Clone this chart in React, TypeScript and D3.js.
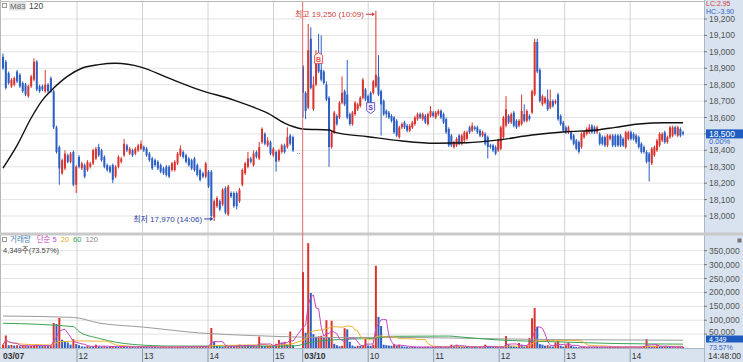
import * as d3 from "d3";

// 03/07 bars
const d1Open = [18970,18940,18870,18790,18800,18880,18860,18810,18800,18730,18790,18830,18940,18790,18790,18760,18800,18840,18760,18540,18420,18260,18290,18370,18330,18390,18190,18360,18290,18310,18280,18300,18320,18350,18420,18400,18360,18310,18300,18310,18240,18300,18330,18370,18430,18380,18400,18380,18400,18410,18420,18410,18380,18350,18340,18330,18310,18290,18300,18300,18280,18280,18320,18370,18390,18370,18350,18340,18350,18310,18280,18260,18240,18270,18270,17990,18060,18090,18070,18170,18010,18140,18140,18140,18090,18190,18260,18300,18350,18310,18390,18350,18450,18500,18430,18450,18370,18390,18340,18390,18430,18420,18490,18480];
const d1Close = [18900,18780,18810,18830,18840,18820,18790,18760,18740,18790,18850,18940,18770,18760,18770,18800,18760,18760,18540,18390,18290,18340,18380,18330,18380,18190,18300,18300,18320,18240,18330,18320,18400,18410,18370,18340,18300,18280,18270,18220,18300,18360,18350,18440,18400,18410,18370,18410,18430,18440,18400,18370,18340,18290,18310,18290,18270,18260,18250,18240,18320,18330,18380,18410,18360,18330,18310,18290,18280,18250,18220,18240,18320,18180,18000,18090,18110,18040,18160,18020,18180,18120,18060,18060,18160,18280,18320,18350,18330,18380,18360,18420,18530,18440,18460,18380,18410,18330,18400,18430,18390,18480,18440,18400];
const d1High = [18990,18950,18880,18840,18850,18890,18870,18820,18810,18800,18860,18960,18950,18800,18800,18890,18810,18850,18770,18550,18430,18350,18400,18380,18390,18400,18310,18370,18330,18320,18340,18330,18410,18420,18440,18410,18370,18320,18310,18320,18310,18370,18360,18470,18440,18420,18410,18420,18440,18460,18430,18420,18390,18360,18350,18340,18320,18300,18310,18310,18330,18340,18390,18430,18400,18380,18360,18350,18360,18320,18290,18270,18330,18280,18280,18100,18120,18100,18170,18180,18190,18150,18150,18150,18170,18290,18330,18390,18360,18400,18400,18450,18540,18510,18480,18460,18420,18400,18410,18440,18440,18540,18500,18490];
const d1Low = [18890,18770,18800,18780,18790,18810,18780,18750,18730,18720,18780,18820,18760,18750,18760,18750,18750,18750,18530,18380,18190,18250,18280,18320,18320,18180,18140,18290,18280,18230,18270,18290,18310,18340,18360,18330,18290,18270,18260,18200,18230,18290,18320,18360,18390,18370,18360,18370,18390,18400,18390,18360,18330,18280,18300,18280,18260,18250,18240,18230,18270,18270,18310,18360,18350,18320,18300,18280,18270,18240,18210,18230,18230,18170,17990,17970,18050,18030,18060,18010,18000,18110,18050,18040,18080,18180,18250,18290,18320,18300,18350,18340,18440,18430,18420,18370,18360,18270,18330,18380,18380,18410,18430,18390];

// 03/10 bars
const d2Open = [18910,18750,18660,19080,18650,18800,18990,18890,18880,18800,18720,18420,18510,18610,18600,18690,18760,18740,18620,18560,18620,18650,18670,18720,18770,18730,18750,18750,18790,18850,18760,18700,18640,18630,18610,18600,18580,18480,18540,18570,18550,18520,18540,18560,18590,18620,18590,18610,18560,18610,18630,18600,18620,18640,18620,18590,18530,18490,18420,18430,18490,18440,18460,18470,18540,18520,18540,18540,18520,18490,18500,18480,18430,18430,18420,18400,18410,18480,18550,18610,18570,18630,18580,18550,18560,18620,18580,18610,18630,18740,19060,18890,18680,18690,18710,18660,18700,18690,18740,18610,18570,18540,18510,18510,18490,18460,18450,18420,18480,18500,18510,18550,18540,18510,18500,18480,18480,18430,18470,18490,18490,18490,18490,18470,18420,18470,18510,18500,18490,18480,18440,18420,18390,18380,18320,18370,18400,18430,18460,18510,18450,18480,18490,18540,18490,18530,18510];
const d2Close = [18750,18640,19010,18780,18800,18980,18880,18830,18810,18710,18420,18510,18630,18560,18690,18750,18680,18600,18560,18630,18690,18680,18720,18830,18710,18690,18680,18820,18860,18740,18680,18620,18620,18600,18580,18510,18490,18540,18560,18540,18520,18550,18570,18600,18620,18600,18620,18570,18620,18640,18610,18630,18640,18600,18570,18510,18430,18430,18450,18470,18440,18490,18510,18510,18510,18550,18530,18510,18490,18510,18440,18420,18420,18400,18380,18460,18540,18600,18650,18570,18620,18550,18540,18580,18640,18580,18640,18590,18760,19060,18880,18700,18730,18720,18650,18700,18670,18700,18590,18560,18520,18510,18540,18470,18440,18410,18390,18500,18510,18530,18540,18510,18510,18540,18440,18440,18430,18490,18490,18430,18430,18430,18430,18430,18510,18510,18470,18470,18450,18420,18390,18390,18330,18330,18410,18420,18460,18500,18500,18450,18480,18540,18540,18500,18540,18490,18500];
const d2High = [18920,18760,19170,19150,18850,19010,19110,19100,18890,18820,18730,18520,18640,18620,18700,18850,18770,18950,18630,18640,18700,18690,18730,18840,18780,18740,18760,18830,19250,18980,18770,18710,18650,18640,18620,18610,18590,18550,18570,18580,18560,18560,18580,18610,18630,18630,18630,18620,18630,18670,18640,18640,18650,18650,18630,18600,18540,18500,18460,18480,18500,18500,18520,18520,18550,18570,18550,18550,18530,18520,18510,18490,18440,18440,18430,18470,18550,18610,18730,18620,18630,18640,18590,18590,18740,18680,18650,18620,18770,19080,19080,18900,18740,18730,18770,18770,18710,18710,18750,18620,18580,18550,18550,18520,18500,18470,18460,18510,18520,18540,18560,18560,18550,18550,18510,18490,18490,18500,18500,18500,18500,18500,18500,18480,18520,18520,18520,18510,18500,18490,18450,18430,18400,18390,18420,18430,18470,18510,18510,18520,18490,18550,18550,18550,18550,18540,18520];
const d2Low = [18600,18590,18650,18770,18640,18790,18870,18820,18800,18700,18300,18410,18500,18550,18590,18680,18670,18590,18550,18550,18610,18640,18660,18710,18700,18680,18670,18740,18780,18730,18490,18610,18600,18590,18570,18500,18480,18470,18530,18530,18510,18510,18530,18550,18580,18590,18580,18560,18550,18600,18600,18590,18610,18590,18560,18500,18420,18420,18410,18420,18430,18430,18450,18460,18500,18510,18520,18500,18480,18480,18430,18350,18410,18390,18370,18390,18400,18470,18540,18560,18560,18540,18530,18540,18550,18570,18570,18580,18620,18730,18870,18690,18670,18680,18640,18650,18660,18680,18580,18550,18510,18500,18500,18460,18430,18400,18380,18410,18470,18490,18500,18500,18500,18500,18430,18430,18420,18420,18460,18420,18420,18420,18420,18420,18410,18460,18460,18460,18440,18410,18380,18380,18320,18210,18310,18360,18390,18420,18450,18440,18440,18470,18480,18490,18480,18480,18490];

// volume, thousands of shares
const d1Vol = [12,45,10,11,9,10,6,8,9,7,8,9,12,8,7,8,7,9,90,86,108,30,25,20,12,32,14,10,6,5,7,5,4,12,6,5,6,4,5,7,5,4,6,5,4,5,4,3,5,4,6,4,3,5,4,3,4,5,3,4,4,3,5,6,4,3,5,4,6,4,5,7,5,6,72,23,8,6,5,7,5,9,6,8,12,6,10,8,7,9,6,41,8,7,9,10,8,15,29,20,22,12,59,10];
const d2Vol = [273,55,377,198,50,40,42,44,36,100,36,98,15,10,6,8,71,67,22,9,5,8,7,10,36,9,8,12,296,112,79,12,10,9,8,14,8,12,6,5,4,3,5,4,3,4,3,5,4,3,4,5,3,4,3,5,4,12,8,12,6,4,5,4,3,5,4,3,4,3,12,5,4,3,4,3,5,4,43,12,8,6,4,18,12,5,8,36,107,144,77,14,12,8,10,6,5,20,25,8,5,10,20,8,5,4,3,4,5,3,4,3,5,4,3,4,3,4,5,3,4,3,4,3,5,4,3,4,3,4,5,6,32,8,5,6,10,5,4,6,5,4,5,3,5,4,4.349];

// 120-bar price average, sampled along the line
const maIdx = [0,5,10,14,18,23,28,34,40,49,58,70,82,87,94,100,103,104,114,116,129,142,155,167,179,192,205,217,224,233,243,250];
const maVal = [18292,18430,18597,18706,18779,18852,18900,18922,18930,18907,18846,18767,18706,18675,18627,18566,18545,18530,18524,18511,18483,18457,18443,18446,18463,18493,18513,18524,18540,18560,18568,18568];

// 60 / 120 volume averages (thousands), sampled
const vol60Idx = [0,25,27,34,46,60,103,108,114,122,131,137,160,164,179,190,202,225,250];
const vol60Val = [89,77,59,35,13,7,7,22,28,32,35,42,43,40,29,25,22,16,14];
const vol120Idx = [0,25,34,50,70,88,103,114,141,179,202,225,250];
const vol120Val = [115,110,90,75,54,45,40,38,38,33,30,29,28];

const hourTicks = [
  { m: 180, label: "12" }, { m: 240, label: "13" }, { m: 300, label: "14" }, { m: 360, label: "15" },
  { m: 390, label: "03/10", day: true }, { m: 450, label: "10" }, { m: 510, label: "11" },
  { m: 570, label: "12" }, { m: 630, label: "13" }, { m: 690, label: "14" },
];

const opens = [...d1Open, ...d2Open];
const closes = [...d1Close, ...d2Close];
const highs = [...d1High, ...d2High];
const lows = [...d1Low, ...d2Low];
const vols = [...d1Vol, ...d2Vol].map((v) => v * 1000);

const RED = "#d9352e";
const BLUE = "#2c5fc4";
const FONT = "'Liberation Sans', 'Noto Sans CJK KR', sans-serif";
const PANEL = "#d8e3ef";
const PR = 704; // plot right edge

const xBar = d3.scaleLinear().domain([0, 103, 104, 250]).range([3, 293, 303, 683]);
const xTime = d3.scaleLinear().domain([180, 360, 390, 738]).range([77, 273.5, 302.7, 682.6]);
const yPrice = d3.scaleLinear().domain([18000, 19200]).range([216, 19]);
const yVol = d3.scaleLinear().domain([0, 350000]).range([348, 250.7]);

const sma = (n: number) =>
  vols.map((_, i) => d3.mean(vols.slice(Math.max(0, i - n + 1), i + 1)) as number);

export default function App() {
  const priceTicks = d3.range(18000, 19201, 100);
  const volTicks = d3.range(50000, 350001, 50000);
  const fmt = d3.format(",");

  const maLine = d3.line<number>().x((_, k) => xBar(maIdx[k])).y((v) => yPrice(v)).curve(d3.curveMonotoneX)(maVal);
  const volLine = (idx: number[], vals: number[]) =>
    d3.line<number>().x((_, k) => xBar(idx[k])).y((v) => yVol(v * 1000)).curve(d3.curveMonotoneX)(vals);
  const smaLine = (n: number) => d3.line<number>().x((_, i) => xBar(i)).y((v) => yVol(v))(sma(n));

  const hiIdx = highs.indexOf(d3.max(highs) as number);
  const loIdx = lows.indexOf(d3.min(lows) as number);
  const hx = xBar(hiIdx), lx = xBar(loIdx);
  const bIdx = 110, sIdx = 130;
  const dayX = xTime(390);
  const last = closes[closes.length - 1];
  const lastVol = vols[vols.length - 1];

  return (
    <svg width={743} height={362} style={{ position: "fixed", left: 0, top: 0, background: "#fff" }} fontFamily={FONT}>
      <defs>
        <clipPath id="pc"><rect x={0} y={2} width={PR} height={230} /></clipPath>
        <clipPath id="vc"><rect x={0} y={236} width={PR} height={112} /></clipPath>
      </defs>

      {/* grid */}
      {priceTicks.map((t) => (
        <line key={t} x1={0} x2={PR} y1={yPrice(t)} y2={yPrice(t)} stroke="#e3e3e3" />
      ))}
      {volTicks.map((t) => (
        <line key={t} x1={0} x2={PR} y1={yVol(t)} y2={yVol(t)} stroke="#e3e3e3" />
      ))}
      {hourTicks.filter((h) => !h.day).map((h) => (
        <line key={h.m} x1={xTime(h.m)} x2={xTime(h.m)} y1={2} y2={362} stroke="#d2d2d2" />
      ))}
      <line x1={0} x2={PR} y1={1.5} y2={1.5} stroke="#b8b8b8" />
      <line x1={0.5} x2={0.5} y1={0} y2={348} stroke="#b8b8b8" />
      <rect x={0} y={232.5} width={743} height={3} fill="#c9c9c9" />

      {/* price panel */}
      <g clipPath="url(#pc)">
        {opens.map((o, i) => {
          const c = closes[i];
          const col = c >= o ? RED : BLUE;
          const cx = xBar(i);
          const top = yPrice(Math.max(o, c));
          const h = Math.max(1, yPrice(Math.min(o, c)) - top);
          return (
            <g key={i}>
              <line x1={cx} x2={cx} y1={yPrice(highs[i])} y2={yPrice(lows[i])} stroke={col} strokeWidth={1} />
              <rect x={cx - 1} y={top} width={2} height={h} fill={col} />
            </g>
          );
        })}
        <line x1={xBar(103.6) - 2} x2={xBar(103.6) + 2} y1={yPrice(18380)} y2={yPrice(18380)} stroke="#999" strokeDasharray="1,1" />
        <path d={maLine ?? ""} fill="none" stroke="#111" strokeWidth={1.4} />
      </g>

      {/* day separator */}
      <line x1={dayX} x2={dayX} y1={2} y2={362} stroke="#e06a6a" />

      {/* high / low notes */}
      <text x={hx - 12} y={yPrice(highs[hiIdx]) + 6} fontSize={8} fill="#d23c3c" textAnchor="end">
        최고 {fmt(highs[hiIdx])} (10:09)
      </text>
      <line x1={hx - 10} x2={hx - 2} y1={yPrice(highs[hiIdx]) + 3.5} y2={yPrice(highs[hiIdx]) + 3.5} stroke="#d23c3c" />
      <path d={`M${hx - 1},${yPrice(highs[hiIdx]) + 3.5} l-3,-2 v4 z`} fill="#d23c3c" />
      <text x={lx - 12} y={yPrice(lows[loIdx]) + 1} fontSize={8} fill="#2a3ea0" textAnchor="end">
        최저 {fmt(lows[loIdx])} (14:06)
      </text>
      <line x1={lx - 10} x2={lx - 2} y1={yPrice(lows[loIdx]) - 2} y2={yPrice(lows[loIdx]) - 2} stroke="#2a3ea0" />
      <path d={`M${lx - 1},${yPrice(lows[loIdx]) - 2} l-3,-2 v4 z`} fill="#2a3ea0" />

      {/* B / S markers */}
      <g transform={`translate(${xBar(bIdx)},${yPrice(18960)})`}>
        <path d="M0,-6 L4,-3 L4,5 L-4,5 L-4,-3 Z" fill="#fff4f4" stroke="#e05a5a" />
        <text y={3.5} fontSize={7} fontWeight="bold" fill="#e05a5a" textAnchor="middle">B</text>
      </g>
      <g transform={`translate(${xBar(sIdx)},${yPrice(18660)})`}>
        <path d="M-4,-5 L4,-5 L4,3 L0,6 L-4,3 Z" fill="#f2f2ff" stroke="#6a5acd" />
        <text y={2} fontSize={7} fontWeight="bold" fill="#5a4ac0" textAnchor="middle">S</text>
      </g>

      {/* price legend */}
      <rect x={2.5} y={3.5} width={4} height={4} fill="none" stroke="#999" />
      <rect x={9} y={1.5} width={17} height={9} fill="#e2e2e2" />
      <text x={10} y={9} fontSize={8} fill="#666">M83</text>
      <text x={29} y={9} fontSize={8.5} fill="#444">120</text>

      {/* volume panel */}
      <g clipPath="url(#vc)">
        {vols.map((v, i) => {
          const col = i === 0 || v >= vols[i - 1] ? RED : BLUE;
          return <rect key={i} x={xBar(i) - 1} y={yVol(v)} width={2} height={348 - yVol(v)} fill={col} />;
        })}
        <path d={volLine(vol120Idx, vol120Val) ?? ""} fill="none" stroke="#9a9a9a" />
        <path d={volLine(vol60Idx, vol60Val) ?? ""} fill="none" stroke="#38a454" />
        <path d={smaLine(20) ?? ""} fill="none" stroke="#f0b030" />
        <path d={smaLine(5) ?? ""} fill="none" stroke="#c646c6" />
      </g>
      <rect x={2.5} y={237.5} width={4} height={4} fill="none" stroke="#999" />
      <text x={10} y={241.5} fontSize={7.5}>
        <tspan fill="#3f7fb5">거래량</tspan>
        <tspan dx={6} fill="#c646c6">단순 5</tspan>
        <tspan dx={4} fill="#e8a820">20</tspan>
        <tspan dx={4} fill="#38a454">60</tspan>
        <tspan dx={4} fill="#8a8a8a">120</tspan>
      </text>
      <text x={3} y={252.5} fontSize={7.5} fill="#444">{fmt(lastVol)}주(73.57%)</text>

      {/* bottom time axis */}
      <rect x={0} y={348.5} width={743} height={13.5} fill={PANEL} />
      <line x1={0} x2={743} y1={348.5} y2={348.5} stroke="#a9b8c8" />
      <text x={3} y={358.5} fontSize={8.5} fontWeight="bold" fill="#333">03/07</text>
      {hourTicks.map((h) => (
        <g key={h.m}>
          <line x1={xTime(h.m)} x2={xTime(h.m)} y1={349} y2={362} stroke="#8a9aaa" />
          <text x={xTime(h.m) + 1.5} y={358.5} fontSize={8.5} fontWeight={h.day ? "bold" : "normal"} fill="#333">{h.label}</text>
        </g>
      ))}

      {/* right axis */}
      <rect x={PR} y={0} width={743 - PR} height={362} fill={PANEL} />
      <line x1={PR + 0.5} x2={PR + 0.5} y1={0} y2={362} stroke="#a9b8c8" />
      <rect x={PR} y={232.5} width={743 - PR} height={3} fill="#c9c9c9" />
      {priceTicks.map((t) => (
        <g key={t}>
          <line x1={PR} x2={PR + 3} y1={yPrice(t)} y2={yPrice(t)} stroke="#777" />
          <text x={PR + 5} y={yPrice(t) + 3} fontSize={8.5} fill="#555">{fmt(t)}</text>
        </g>
      ))}
      {volTicks.map((t) => (
        <g key={t}>
          <line x1={PR} x2={PR + 3} y1={yVol(t)} y2={yVol(t)} stroke="#777" />
          <text x={PR + 5} y={yVol(t) + (t === 50000 ? 0.5 : 3)} fontSize={8.5} fill="#555">{fmt(t)}</text>
        </g>
      ))}
      <text x={PR + 2} y={6} fontSize={7} fill="#d23c3c">LC:2.95</text>
      <text x={PR + 2} y={13.5} fontSize={7} fill="#2f62c8">HC:-3.90</text>
      <rect x={PR + 2} y={yPrice(last) - 4.5} width={743 - PR - 2} height={9} fill="#1f5cc0" />
      <text x={PR + 5} y={yPrice(last) + 3} fontSize={8.5} fill="#fff">{fmt(last)}</text>
      <text x={PR + 5} y={yPrice(last) + 10.5} fontSize={7.5} fill="#2f62c8">0.00%</text>
      <rect x={737.5} y={238.5} width={4} height={4} fill="#777" />
      <rect x={PR + 2} y={335.5} width={743 - PR - 2} height={7} fill="#1f5cc0" />
      <text x={PR + 5} y={341.5} fontSize={7} fill="#fff">{fmt(lastVol)}</text>
      <text x={PR + 5} y={349.5} fontSize={7} fill="#2f62c8">73.57%</text>
      <text x={PR + 4} y={358.5} fontSize={8.5} fill="#333">14:48:00</text>
    </svg>
  );
}
